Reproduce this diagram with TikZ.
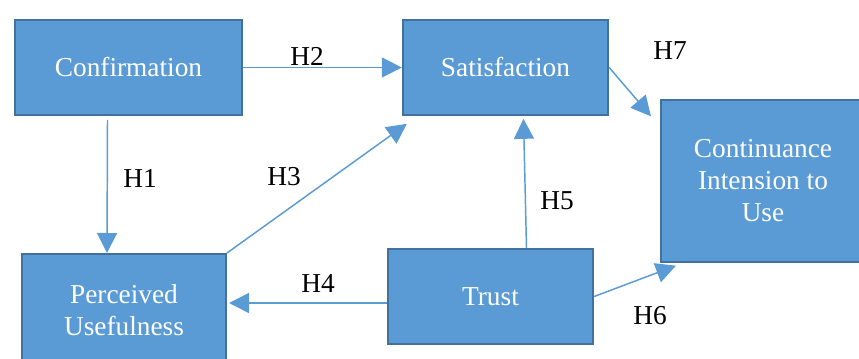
\documentclass[tikz,border=0pt]{standalone}
\usepackage{fontspec}
\setmainfont{Liberation Serif}
\definecolor{boxblue}{RGB}{91, 155, 213}
\definecolor{edgeblue}{RGB}{65, 113, 156}
\usetikzlibrary{arrows.meta, calc}

\begin{document}
\begin{tikzpicture}[x=0.75pt, y=-0.75pt,
  construct/.style={draw=edgeblue, line width=1.5pt, fill=boxblue, text=white,
    font=\fontsize{20.5}{24}\selectfont, align=center, inner sep=0pt},
  path/.style={boxblue, line width=1.1pt, -{Triangle[length=15pt, width=15pt]}},
  hyp/.style={font=\fontsize{20.5}{24}\selectfont, text=black}]
  \useasboundingbox (0,0) rectangle (859,359);

  % Constructs
  \node[construct, minimum width=170pt, minimum height=71pt] (conf) at (128.5, 67.5) {Confirmation};
  \node[construct, minimum width=154pt, minimum height=71pt] (sat) at (505.5, 67.5) {Satisfaction};
  \node[construct, minimum width=153pt, minimum height=121pt] (cont) at (763, 181) {Continuance\\Intension to\\Use};
  \node[construct, minimum width=153pt, minimum height=84pt] (pu) at (124, 310) {Perceived\\Usefulness};
  \node[construct, minimum width=154pt, minimum height=71pt] (trust) at (490.5, 296.5) {Trust};

  % Hypothesised paths
  \draw[path] (conf.east) -- (sat.west);
  \draw[path] ($(conf.south)+(-21,4)$) -- ($(pu.north)+(-17,0)$);
  \draw[path] (pu.north east) -- ($(sat.south west)+(5,8)$);
  \draw[path] ($(trust.west)+(0,6.5)$) -- ($(pu.east)+(2,-7)$);
  \draw[path] ($(trust.north)+(36,0)$) -- ($(sat.south)+(18,3)$);
  \draw[path] (trust.east) -- ($(cont.south west)+(16,3)$);
  \draw[path] (sat.east) -- ($(cont.north west)+(-9,17)$);

  % Labels
  \node[hyp] (h1) at (140, 178) {H1};
  \node[hyp] (h2) at (307, 56) {H2};
  \node[hyp] (h3) at (284, 177) {H3};
  \node[hyp] (h4) at (318, 284) {H4};
  \node[hyp] (h5) at (557, 201) {H5};
  \node[hyp] (h6) at (650, 316) {H6};
  \node[hyp] (h7) at (670, 51) {H7};
\end{tikzpicture}
\end{document}
